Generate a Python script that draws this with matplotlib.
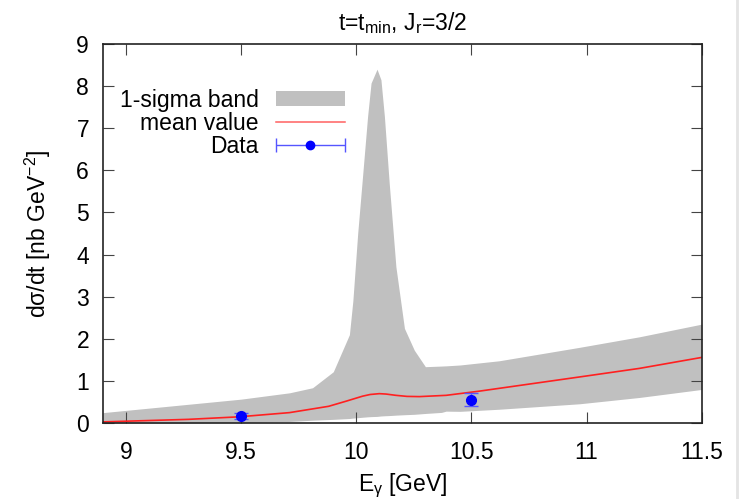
import numpy as np
import matplotlib
matplotlib.use("Agg")
import matplotlib.pyplot as plt
from matplotlib.lines import Line2D
from matplotlib.collections import LineCollection
from matplotlib.container import ErrorbarContainer
from matplotlib.legend_handler import HandlerErrorbar

plt.rcParams['font.family'] = ['Liberation Sans', 'DejaVu Sans']
plt.rcParams['mathtext.fontset'] = 'custom'
plt.rcParams['mathtext.rm'] = 'Liberation Sans'
plt.rcParams['mathtext.it'] = 'Liberation Sans:italic'
plt.rcParams['font.size'] = 16.5

# band (1 sigma)
E_band = [8.9, 9.2, 9.5, 9.71, 9.81, 9.9, 9.97, 9.985, 10.006, 10.027, 10.049,
          10.064, 10.09, 10.107, 10.122, 10.143, 10.172, 10.209, 10.252, 10.30,
          10.37, 10.39, 10.45, 10.62, 10.97, 11.23, 11.5]
band_hi = [0.25, 0.41, 0.57, 0.72, 0.84, 1.22, 2.1, 2.9, 4.5, 5.85, 7.28,
           8.07, 8.4, 8.15, 7.28, 5.69, 3.71, 2.25, 1.73, 1.34,
           1.355, 1.36, 1.38, 1.48, 1.80, 2.05, 2.35]
band_lo = [0.0, 0.0, 0.02, 0.04, 0.07, 0.09, 0.11, 0.12, 0.13, 0.14, 0.15,
           0.155, 0.16, 0.17, 0.175, 0.18, 0.19, 0.20, 0.21, 0.23,
           0.255, 0.285, 0.28, 0.33, 0.46, 0.61, 0.80]

# mean value
E_mean = [8.9, 9.27, 9.49, 9.71, 9.88, 9.955, 10.027, 10.06, 10.1, 10.13,
          10.172, 10.22, 10.274, 10.39, 10.535, 11.0, 11.23, 11.5]
mean = [0.03, 0.09, 0.15, 0.25, 0.40, 0.52, 0.64, 0.68, 0.70, 0.69,
        0.66, 0.635, 0.63, 0.66, 0.76, 1.12, 1.30, 1.56]

# data
E_data = [9.5, 10.5]
y_data = [0.17, 0.56]
y_err = [0.07, 0.15]

fig = plt.figure(figsize=(7.41, 4.99), dpi=100)
ax = fig.add_axes([0.139, 0.152, 0.808, 0.760])

ax.fill_between(E_band, band_lo, band_hi, color='#c0c0c0', lw=0, zorder=1)
ax.plot(E_mean, mean, color='#ff2020', lw=1.2, zorder=2)
ax.errorbar(E_data, y_data, yerr=y_err, fmt='o', color='blue', ms=7,
            ecolor='#5555ff', elinewidth=1, capsize=5, capthick=1, zorder=3)

ax.set_xlim(8.9, 11.5)
ax.set_ylim(0, 9)
ax.set_xticks([9, 9.5, 10, 10.5, 11, 11.5])
ax.set_xticklabels(['9', '9.5', '10', '10.5', '11', '11.5'])
ax.set_yticks(range(10))
ax.tick_params(direction='in', length=8, width=0.8, color='#444444',
               top=True, right=True, pad=10)
ax.tick_params(axis='x', pad=13)
for s in ax.spines.values():
    s.set_linewidth(1.2)
    s.set_color('#222222')

ax.set_title(r't=t$_{\mathrm{min}}$, J$_{\mathrm{r}}$=3/2', fontsize=16.5, pad=10)
ax.set_xlabel(r'E$_{\mathrm{γ}}$ [GeV]', labelpad=5)
ax.set_ylabel(r'dσ/dt [nb GeV$^{\mathrm{-2}}$]', labelpad=17)

# legend, gnuplot style: text first, sample after
band_proxy = plt.Rectangle((0, 0), 1, 1, fc='#c0c0c0', ec='none')
mean_proxy = Line2D([], [], color='#ff6060', lw=1.1)
dline = Line2D([], [], marker='o', color='blue', ms=6, ls='none')
cap = Line2D([], [], marker='|', color='#5555ff', ms=10, mew=1, ls='none')
bars = LineCollection([], colors='#5555ff', linewidths=1)
data_proxy = ErrorbarContainer((dline, [cap, cap], [bars]),
                               has_xerr=True, has_yerr=False)
ax.legend([band_proxy, mean_proxy, data_proxy],
          ['1-sigma band', 'mean value', 'Data'],
          handler_map={ErrorbarContainer: HandlerErrorbar(xerr_size=1.5)},
          loc='upper left', bbox_to_anchor=(0.028, 0.882), frameon=False,
          markerfirst=False, handlelength=3.0, handleheight=0.6,
          handletextpad=0.75, labelspacing=0.0, borderpad=0, borderaxespad=0)

fig.add_artist(Line2D([0.994, 0.994], [0, 1], transform=fig.transFigure,
                      color='#e4e4e4', lw=2))

fig.savefig('out.png', dpi=100)
